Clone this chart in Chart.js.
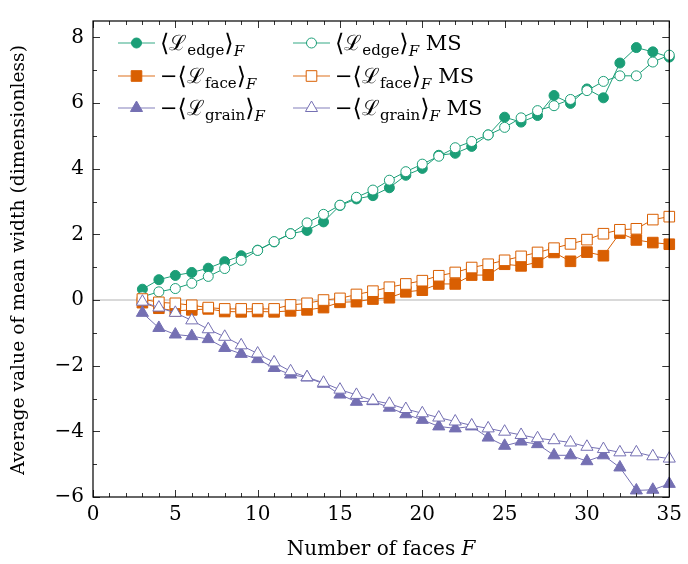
<!DOCTYPE html>
<html>
<head>
<meta charset="utf-8">
<script src="https://cdn.jsdelivr.net/npm/chart.js@4.4.0/dist/chart.umd.min.js"></script>
<style>
  body { margin: 0; background: #fff; }
</style>
</head>
<body>
<canvas id="chart" width="688" height="564"></canvas>
<script>
// number of faces F
var faces = [3, 4, 5, 6, 7, 8, 9, 10, 11, 12, 13, 14, 15, 16, 17, 18, 19,
  20, 21, 22, 23, 24, 25, 26, 27, 28, 29, 30, 31, 32, 33, 34, 35];

var edge = [0.33, 0.62, 0.75, 0.84, 0.97, 1.17, 1.35, 1.52, 1.77, 2.02, 2.12, 2.38, 2.88, 3.08, 3.18,
  3.42, 3.8, 4.01, 4.41, 4.47, 4.68, 5.03, 5.57, 5.42, 5.62, 6.23, 5.99, 6.43, 6.16, 7.22, 7.69, 7.56, 7.4];
var edgeMS = [0.1, 0.25, 0.35, 0.51, 0.72, 0.96, 1.21, 1.51, 1.78, 2.02, 2.35, 2.61, 2.89, 3.13, 3.35,
  3.65, 3.91, 4.14, 4.38, 4.64, 4.83, 5.03, 5.26, 5.55, 5.77, 5.92, 6.11, 6.38, 6.66, 6.83, 6.83, 7.25, 7.46];

var face = [-0.08, -0.25, -0.33, -0.3, -0.27, -0.35, -0.36, -0.35, -0.36, -0.33, -0.3, -0.23, -0.07, -0.05, 0.03,
  0.07, 0.25, 0.3, 0.49, 0.49, 0.76, 0.76, 1.09, 1.04, 1.15, 1.45, 1.18, 1.46, 1.35, 2.04, 1.83, 1.75, 1.7];
var faceMS = [0.03, -0.07, -0.1, -0.16, -0.23, -0.27, -0.27, -0.27, -0.27, -0.15, -0.1, 0.0, 0.05, 0.17, 0.27,
  0.39, 0.49, 0.59, 0.74, 0.84, 0.99, 1.09, 1.21, 1.33, 1.45, 1.58, 1.71, 1.84, 2.02, 2.14, 2.17, 2.45, 2.54];

var grain = [-0.39, -0.85, -1.05, -1.1, -1.19, -1.46, -1.64, -1.8, -2.07, -2.27, -2.36, -2.55, -2.88, -3.1, -3.08,
  -3.28, -3.48, -3.65, -3.85, -3.91, -3.85, -4.19, -4.44, -4.31, -4.39, -4.73, -4.73, -4.91, -4.73, -5.1, -5.8, -5.78, -5.6];
var grainMS = [-0.05, -0.23, -0.39, -0.62, -0.89, -1.12, -1.38, -1.63, -1.9, -2.17, -2.35, -2.52, -2.73, -2.89, -3.06,
  -3.16, -3.32, -3.45, -3.58, -3.7, -3.82, -3.91, -4.01, -4.11, -4.21, -4.27, -4.34, -4.47, -4.54, -4.64, -4.64, -4.76, -4.83];

var yLabels = [-6, -4, -2, 0, 2, 4, 6, 8];
var xLabels = [0, 5, 10, 15, 20, 25, 30, 35];

var GREEN = "#1b9e77", ORANGE = "#d95f02", PURPLE = "#7570b3";
var SERIF = '"DejaVu Serif", "Liberation Serif", serif';

function pts(ys) {
  return faces.map(function (f, i) { return { x: f, y: ys[i] }; });
}

function series(label, ys, color, shape, hollow, r, order) {
  return {
    label: label,
    data: pts(ys),
    borderColor: color,
    borderWidth: 1,
    pointStyle: shape,
    pointRadius: r,
    pointHoverRadius: r,
    pointBackgroundColor: hollow ? "#ffffff" : color,
    pointBorderColor: color,
    pointBorderWidth: 1,
    tension: 0,
    clip: false,
    order: order
  };
}

var legendItems = [
  { sub: "edge", sign: false, ms: false, color: GREEN, shape: "circle", hollow: false },
  { sub: "edge", sign: false, ms: true, color: GREEN, shape: "circle", hollow: true },
  { sub: "face", sign: true, ms: false, color: ORANGE, shape: "rect", hollow: false },
  { sub: "face", sign: true, ms: true, color: ORANGE, shape: "rect", hollow: true },
  { sub: "grain", sign: true, ms: false, color: PURPLE, shape: "triangle", hollow: false },
  { sub: "grain", sign: true, ms: true, color: PURPLE, shape: "triangle", hollow: true }
];

function drawPieces(ctx, x, y, parts) {
  parts.forEach(function (p) {
    ctx.font = (p.italic ? "italic " : "") + p.size + "px " + SERIF;
    ctx.fillText(p.t, x, y + (p.dy || 0));
    x += ctx.measureText(p.t).width;
  });
  return x;
}

function legendLabel(ctx, x, y, item) {
  var parts = [];
  if (item.sign) parts.push({ t: "−", size: 21 });
  parts.push({ t: "⟨", size: 24, dy: 1 });
  parts.push({ t: "ℒ", size: 21 });
  parts.push({ t: item.sub, size: 15, dy: 5 });
  parts.push({ t: "⟩", size: 24, dy: 1 });
  parts.push({ t: "F", size: 15, dy: 6, italic: true });
  if (item.ms) parts.push({ t: " MS", size: 21 });
  drawPieces(ctx, x, y, parts);
}

var decorations = {
  id: "decorations",
  beforeDatasetsDraw: function (chart) {
    var ctx = chart.ctx, ys = chart.scales.y, a = chart.chartArea;
    var y0 = ys.getPixelForValue(0);
    ctx.save();
    ctx.strokeStyle = "#cccccc";
    ctx.lineWidth = 1.5;
    ctx.beginPath();
    ctx.moveTo(a.left, y0);
    ctx.lineTo(a.right, y0);
    ctx.stroke();
    ctx.restore();
  },
  afterDatasetsDraw: function (chart) {
    var ctx = chart.ctx, xs = chart.scales.x, ys = chart.scales.y, a = chart.chartArea;
    ctx.save();
    ctx.strokeStyle = "#333333";
    ctx.lineWidth = 1;
    ctx.beginPath();
    for (var v = 0; v <= 35; v++) {
      var px = Math.round(xs.getPixelForValue(v)) + 0.5;
      var len = v % 5 === 0 ? 7 : 4;
      ctx.moveTo(px, a.bottom); ctx.lineTo(px, a.bottom - len);
      ctx.moveTo(px, a.top); ctx.lineTo(px, a.top + len);
    }
    for (var w = -6; w <= 8; w++) {
      var py = Math.round(ys.getPixelForValue(w)) + 0.5;
      var l2 = w % 2 === 0 ? 7 : 4;
      ctx.moveTo(a.left, py); ctx.lineTo(a.left + l2, py);
      ctx.moveTo(a.right, py); ctx.lineTo(a.right - l2, py);
    }
    ctx.stroke();
    ctx.strokeStyle = "#000000";
    ctx.lineWidth = 1.2;
    ctx.strokeRect(a.left, a.top, a.right - a.left, a.bottom - a.top);
    ctx.restore();
  },
  afterDraw: function (chart) {
    var ctx = chart.ctx, a = chart.chartArea;
    ctx.save();
    ctx.fillStyle = "#000000";
    ctx.textBaseline = "alphabetic";

    // legend, two columns, row-wise
    var cols = [118, 293], rows = [43, 76, 108];
    legendItems.forEach(function (item, i) {
      var lx = cols[i % 2], ly = rows[Math.floor(i / 2)];
      ctx.strokeStyle = item.color;
      ctx.globalAlpha = 0.6;
      ctx.lineWidth = 1.5;
      ctx.beginPath();
      ctx.moveTo(lx, ly); ctx.lineTo(lx + 37, ly);
      ctx.stroke();
      ctx.globalAlpha = 1;
      ctx.lineWidth = 1;
      ctx.fillStyle = item.hollow ? "#ffffff" : item.color;
      var r = item.shape === "circle" ? 5 : 7.5;
      if (item.shape === "triangle") r = 7;
      Chart.helpers.drawPoint(ctx, { pointStyle: item.shape, radius: r, borderWidth: 1 }, lx + 18.5, ly);
      ctx.fillStyle = "#000000";
      legendLabel(ctx, lx + 42, ly + 7, item);
    });

    // x axis title
    ctx.font = "20px " + SERIF;
    var t1 = "Number of faces ";
    var w1 = ctx.measureText(t1).width;
    ctx.font = "italic 20px " + SERIF;
    var w2 = ctx.measureText("F").width;
    var sx = (a.left + a.right) / 2 - (w1 + w2) / 2;
    drawPieces(ctx, sx, 555, [{ t: t1, size: 20 }, { t: "F", size: 20, italic: true }]);

    // y axis title
    ctx.translate(24, 260);
    ctx.rotate(-Math.PI / 2);
    ctx.font = "18.7px " + SERIF;
    ctx.textAlign = "center";
    ctx.fillText("Average value of mean width (dimensionless)", 0, 0);
    ctx.restore();
  }
};

new Chart("chart", {
  type: "line",
  data: {
    datasets: [
      series("edge", edge, GREEN, "circle", false, 5, 6),
      series("edge MS", edgeMS, GREEN, "circle", true, 5, 5),
      series("face", face, ORANGE, "rect", false, 7.5, 4),
      series("face MS", faceMS, ORANGE, "rect", true, 7.5, 3),
      series("grain", grain, PURPLE, "triangle", false, 7, 2),
      series("grain MS", grainMS, PURPLE, "triangle", true, 7, 1)
    ]
  },
  options: {
    responsive: false,
    animation: false,
    layout: { padding: { left: 0, top: 7, right: 12, bottom: 0 } },
    plugins: {
      legend: { display: false },
      tooltip: { enabled: false }
    },
    scales: {
      x: {
        type: "linear",
        min: 0,
        max: 35,
        grid: { display: false, drawTicks: false },
        border: { display: false },
        afterFit: function (s) { s.height = 67; },
        afterBuildTicks: function (s) { s.ticks = xLabels.map(function (v) { return { value: v }; }); },
        ticks: {
          padding: 6,
          color: "#000",
          font: { family: SERIF, size: 20 },
          maxRotation: 0
        }
      },
      y: {
        type: "linear",
        min: -6,
        max: 8.5,
        grid: { display: false, drawTicks: false },
        border: { display: false },
        afterFit: function (s) { s.width = 93; },
        afterBuildTicks: function (s) { s.ticks = yLabels.map(function (v) { return { value: v }; }); },
        ticks: {
          padding: 9,
          color: "#000",
          font: { family: SERIF, size: 20 },
          callback: function (v) { return String(v).replace("-", "−"); }
        }
      }
    }
  },
  plugins: [decorations]
});
</script>
</body>
</html>
